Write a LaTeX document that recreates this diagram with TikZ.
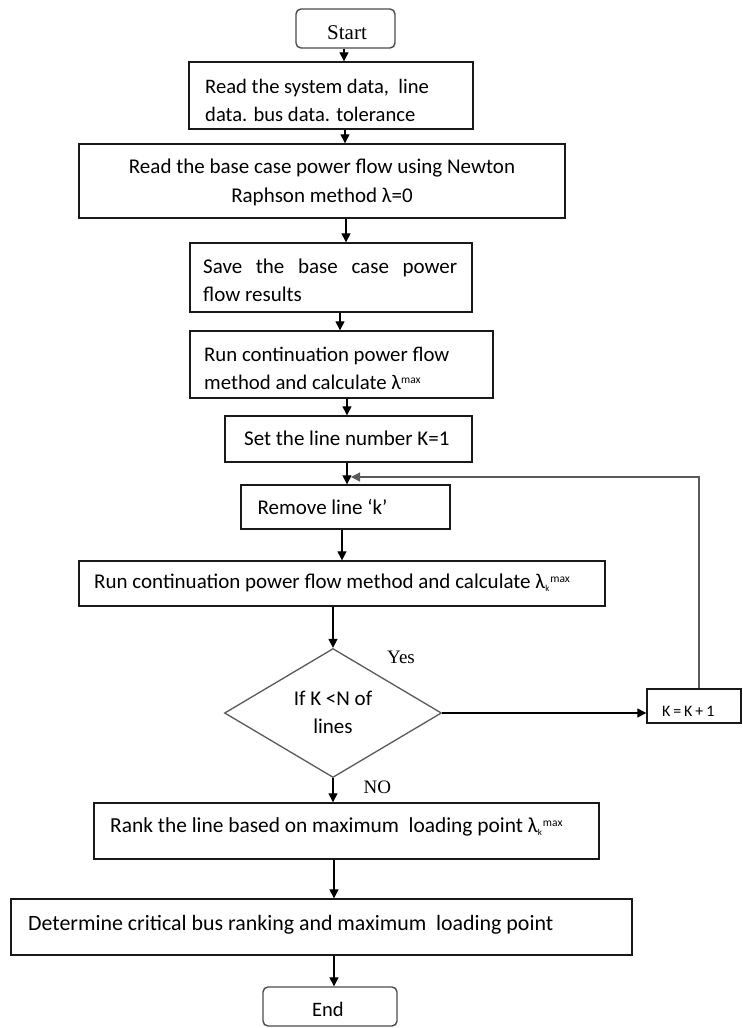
\documentclass[tikz,border=0pt]{standalone}
\usepackage{fontspec}
\setmainfont{Carlito}
\newfontfamily\timesfont{Liberation Serif}
\usetikzlibrary{shapes.geometric,arrows.meta}
\newcommand\supmax{\raisebox{6pt}{\fontsize{11.5}{12}\selectfont max}}
\newcommand\lammax{λ\supmax}
\newcommand\lamkmax{λ\raisebox{-3pt}{\fontsize{9}{10}\selectfont k}\hspace{1pt}\supmax}
\begin{document}
\begin{tikzpicture}[x=1pt,y=-1pt,
  boxs/.style={draw=black!90, line width=1.4pt, rectangle, inner sep=0pt},
  term/.style={draw=black!70, line width=1.4pt, rectangle, rounded corners=5pt, inner sep=0pt},
  dec/.style={draw=black!65, line width=1.3pt, diamond, aspect=1.68, inner sep=0pt},
  txt/.style={inner sep=0pt, align=left, anchor=north west, font=\fontsize{21}{28}\selectfont},
  ctxt/.style={inner sep=0pt, align=center, anchor=north, font=\fontsize{21}{28}\selectfont},
  lbl/.style={inner sep=0pt, anchor=base west, font=\timesfont\fontsize{19}{22}\selectfont},
  arr/.style={draw=black, line width=1.3pt, -{Triangle[length=9pt,width=9pt]}},
  loopline/.style={draw=black!65, line width=1.3pt, -{Triangle[length=9pt,width=9pt]}}]
\useasboundingbox (0,0) rectangle (743,1028);
\fill[white] (0,0) rectangle (743,1028);

% boxes (centre, width, height)
\node[term, minimum width=99pt, minimum height=39pt] (start) at (345.5,28.5) {};
\node[boxs, minimum width=284pt, minimum height=67pt] (b1) at (331,95.5) {};
\node[boxs, minimum width=486pt, minimum height=74pt] (b2) at (322,181) {};
\node[boxs, minimum width=282pt, minimum height=69pt] (b3) at (331,277.5) {};
\node[boxs, minimum width=303pt, minimum height=67pt] (b4) at (341.5,364.5) {};
\node[boxs, minimum width=247pt, minimum height=46pt] (b5) at (348.5,439) {};
\node[boxs, minimum width=209pt, minimum height=44pt] (b6) at (345.5,507) {};
\node[boxs, minimum width=526pt, minimum height=45pt] (b7) at (342,583.5) {};
\node[dec, minimum width=217pt, minimum height=129pt] (dia) at (333,713) {};
\node[boxs, minimum width=94pt, minimum height=34pt] (kb) at (694,706) {};
\node[boxs, minimum width=505pt, minimum height=56pt] (b8) at (346.5,831) {};
\node[boxs, minimum width=621pt, minimum height=56pt] (b9) at (321.5,927) {};
\node[term, minimum width=134pt, minimum height=39pt] (end) at (330,1006.5) {};

% texts
\node[inner sep=0pt, anchor=base, font=\timesfont\fontsize{21}{24}\selectfont] (tstart) at (347,39.5) {Start};
\node[txt, font=\fontsize{20.6}{28}\selectfont] (t1) at (205,73.4) {\strut Read the system data,\ \ line\\\strut data. bus data. tolerance};
\node[ctxt, font=\fontsize{21}{29}\selectfont] (t2) at (322,153.2) {\strut Read the base case power flow using Newton\\\strut Raphson method λ=0};
\node[txt] (t3) at (203,253.4) {\strut\makebox[254pt][s]{Save the base case power}\\\strut flow results};
\node[txt, font=\fontsize{20.8}{28}\selectfont] (t4) at (204,342.1) {\strut Run continuation power flow\\\strut method and calculate \lammax};
\node[txt] (t5) at (244,425.4) {\strut Set the line number K=1};
\node[txt] (t6) at (257.5,494.4) {\strut Remove line ‘k’};
\node[txt] (t7) at (94,568.7) {\strut Run continuation power flow method and calculate \lamkmax};
\node[ctxt] (td) at (333,685.4) {\strut If K <N of\\\strut lines};
\node[lbl] (tyes) at (387,663) {Yes};
\node[lbl] (tno) at (363.4,793) {NO};
\node[inner sep=0pt, anchor=base west, font=\addfontfeature{LetterSpace=18}\fontsize{16}{18}\selectfont] (tk) at (662,716) {K=K+1};
\node[txt, font=\fontsize{21.4}{28}\selectfont] (t8) at (110,813.1) {\strut Rank the line based on maximum\ \ loading point \lamkmax};
\node[txt, font=\fontsize{21.9}{28}\selectfont] (t9) at (28,910.4) {\strut Determine critical bus ranking and maximum\ \ loading point};
\node[inner sep=0pt, anchor=base, font=\fontsize{20.5}{24}\selectfont] (tend) at (328,1016.7) {End};

% arrow columns
\coordinate (x1) at (344,0);
\coordinate (x2) at (345,0);
\coordinate (x3) at (346,0);
\coordinate (x4) at (340,0);
\coordinate (x5) at (347,0);
\coordinate (x6) at (342,0);
\coordinate (x7) at (334,0);
\coordinate (xl) at (699,0);
\coordinate (jn) at (351,477);

\draw[arr] (start.south -| x1) -- (b1.north -| x1);
\draw[arr] (b1.south -| x2) -- (b2.north -| x2);
\draw[arr] (b2.south -| x3) -- (b3.north -| x3);
\draw[arr] (b3.south -| x4) -- (b4.north -| x4);
\draw[arr] (b4.south -| x5) -- (b5.north -| x5);
\draw[arr] (b5.south -| x5) -- (b6.north -| x5);
\draw[loopline] (kb.north -| xl) |- (jn);
\draw[arr] (b6.south -| x6) -- (b7.north -| x6);
\draw[arr] (b7.south -| dia.north) -- (dia.north);
\draw[arr] (dia.east) -- (kb.west |- dia.east);
\draw[arr] (dia.south) -- (b8.north -| dia.south);
\draw[arr] (b8.south -| x7) -- (b9.north -| x7);
\draw[arr] (b9.south -| x7) -- (end.north -| x7);
\end{tikzpicture}
\end{document}
